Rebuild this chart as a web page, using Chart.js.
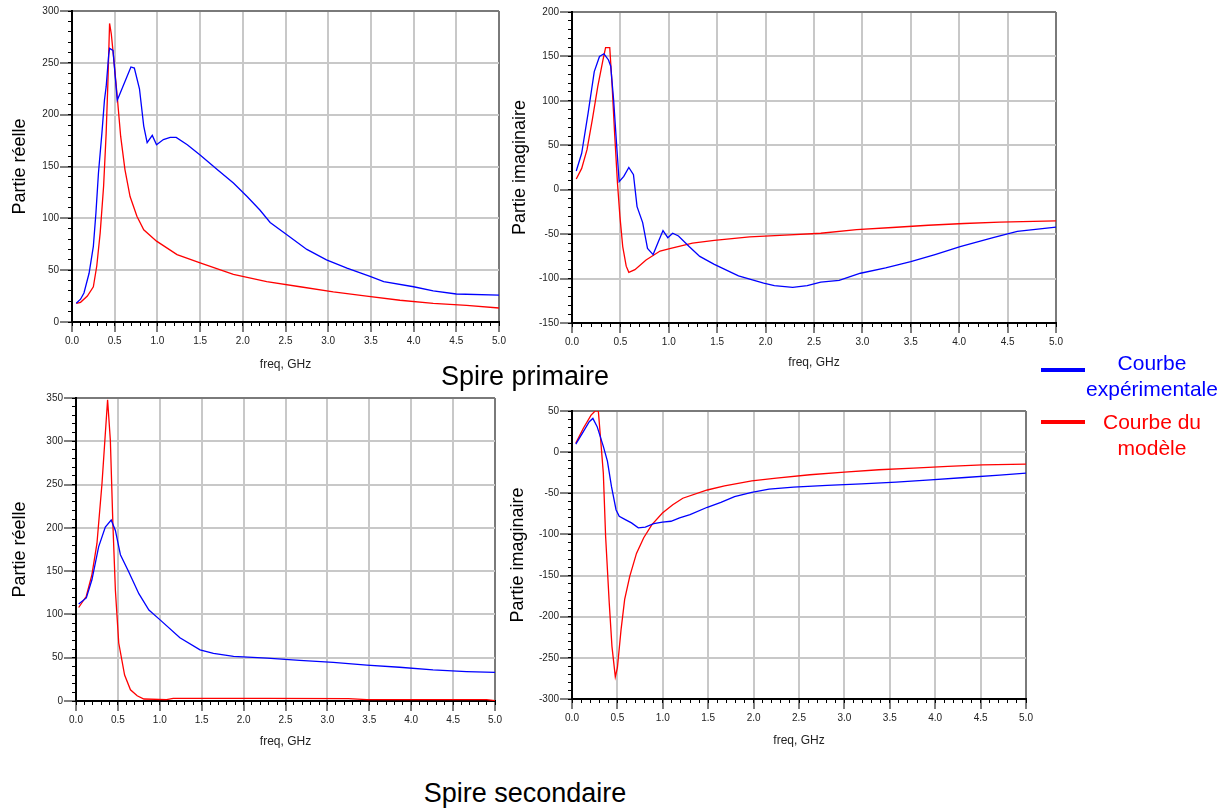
<!DOCTYPE html>
<html>
<head>
<meta charset="utf-8">
<script src="https://cdn.jsdelivr.net/npm/chart.js@4.4.0/dist/chart.umd.min.js"></script>
<style>
body { margin: 0; background: #fff; width: 1231px; height: 809px; position: relative; overflow: hidden; font-family: "Liberation Sans", Arial, sans-serif; }
canvas { position: absolute; }
.txt { position: absolute; white-space: nowrap; transform: translate(-50%, -50%); color: #000; }
.big { font-size: 27px; }
.leg { font-size: 21px; line-height: 26px; text-align: center; }
.swatch { position: absolute; width: 44px; height: 4px; }
</style>
</head>
<body>
<canvas id="c1" width="512" height="376" style="left:0px;top:0px"></canvas>
<canvas id="c2" width="570" height="374" style="left:500px;top:0px"></canvas>
<canvas id="c3" width="508" height="373" style="left:0px;top:380px"></canvas>
<canvas id="c4" width="540" height="372" style="left:500px;top:380px"></canvas>

<div class="txt big" style="left:525px;top:376px">Spire primaire</div>
<div class="txt big" style="left:525px;top:793px">Spire secondaire</div>

<div class="swatch" style="left:1041px;top:368px;background:#0000ff"></div>
<div class="txt leg" style="left:1152px;top:376px;color:#0000ff">Courbe<br>expérimentale</div>
<div class="swatch" style="left:1041px;top:420px;background:#ff0000"></div>
<div class="txt leg" style="left:1152px;top:435px;color:#ff0000">Courbe du<br>modèle</div>

<script>
// Spire primaire - partie reelle
const p1ExpFreq = [0.05, 0.10, 0.14, 0.20, 0.25, 0.28, 0.31, 0.35, 0.38, 0.40, 0.43, 0.44, 0.48, 0.53, 0.69, 0.73, 0.79, 0.84, 0.88, 0.94, 0.99, 1.07, 1.15, 1.22, 1.35, 1.50, 1.70, 1.89, 2.05, 2.20, 2.32, 2.52, 2.75, 2.98, 3.22, 3.49, 3.65, 4.00, 4.23, 4.50, 5.00];
const p1ExpVal  = [18, 22, 28, 47, 73, 105, 144, 182, 214, 227, 258, 264, 262, 214, 246, 245, 225, 189, 173, 180, 171, 176, 178, 178, 171, 161, 147, 134, 121, 108, 96, 84, 70, 60, 52, 44, 39, 34, 30, 27, 26];
const p1ModFreq = [0.05, 0.10, 0.18, 0.25, 0.29, 0.33, 0.37, 0.40, 0.42, 0.44, 0.46, 0.49, 0.53, 0.57, 0.62, 0.68, 0.76, 0.84, 0.99, 1.23, 1.50, 1.89, 2.28, 2.67, 3.06, 3.45, 3.84, 4.23, 4.62, 5.00];
const p1ModVal  = [18, 19, 25, 34, 54, 86, 131, 182, 230, 288, 278, 253, 217, 179, 147, 121, 102, 89, 78, 65, 57, 46, 39, 34, 29, 25, 21, 18, 16, 13.5];

// Spire primaire - partie imaginaire
const p2ExpFreq = [0.044, 0.10, 0.166, 0.23, 0.284, 0.33, 0.377, 0.40, 0.43, 0.46, 0.487, 0.535, 0.587, 0.635, 0.672, 0.73, 0.78, 0.838, 0.894, 0.94, 0.99, 1.04, 1.10, 1.21, 1.32, 1.47, 1.72, 1.98, 2.09, 2.28, 2.43, 2.57, 2.76, 2.98, 3.24, 3.50, 3.75, 4.01, 4.35, 4.60, 5.00];
const p2ExpVal  = [21, 41, 86, 133, 150, 153, 146, 139, 101, 52, 9, 15, 25, 17, -19, -37, -66, -73, -58, -46, -54, -49, -52, -64, -75, -84, -97, -105, -108, -110, -108, -104, -102, -94, -88, -81, -73, -64, -54, -47, -42];
const p2ModFreq = [0.044, 0.10, 0.155, 0.21, 0.266, 0.32, 0.347, 0.39, 0.413, 0.44, 0.47, 0.495, 0.524, 0.56, 0.587, 0.65, 0.765, 0.91, 1.02, 1.245, 1.47, 1.835, 2.20, 2.57, 2.94, 3.31, 3.68, 4.05, 4.42, 5.00];
const p2ModVal  = [12, 24, 45, 79, 116, 146, 160, 160, 120, 64, 7, -30, -64, -86, -93, -90, -79, -69, -66, -60, -57, -53, -51, -49, -45, -42.5, -40, -38, -36.5, -35];

// Spire secondaire - partie reelle
const p3ExpFreq = [0.032, 0.123, 0.19, 0.27, 0.35, 0.42, 0.47, 0.53, 0.63, 0.75, 0.87, 1.00, 1.24, 1.48, 1.64, 1.88, 2.28, 2.67, 3.07, 3.47, 3.86, 4.26, 4.66, 5.00];
const p3ExpVal  = [112, 119, 140, 178, 201, 209, 197, 169, 149, 124, 105, 94, 73, 59, 55, 51.5, 49.5, 47, 44.6, 41.5, 39, 36, 34, 33];
const p3ModFreq = [0.032, 0.123, 0.19, 0.25, 0.31, 0.35, 0.377, 0.41, 0.44, 0.47, 0.51, 0.58, 0.65, 0.73, 0.81, 1.08, 1.16, 2.28, 3.25, 3.47, 4.90, 5.00];
const p3ModVal  = [108, 121, 146, 182, 251, 309, 348, 301, 205, 128, 67, 30, 13, 6, 2.3, 1.5, 3, 3, 2.7, 1.5, 1.5, 0.5];

// Spire secondaire - partie imaginaire
const p4ExpFreq = [0.042, 0.125, 0.19, 0.23, 0.277, 0.345, 0.39, 0.435, 0.485, 0.52, 0.587, 0.655, 0.73, 0.807, 0.90, 0.996, 1.09, 1.185, 1.30, 1.49, 1.64, 1.79, 1.98, 2.17, 2.44, 2.81, 3.19, 3.57, 3.95, 4.33, 4.71, 5.00];
const p4ExpVal  = [9.7, 25, 37, 41, 31, 7, -11, -42, -70, -78, -82, -86, -92, -91, -87, -85, -84, -80, -76, -67, -61, -54, -49, -45, -42.5, -40.5, -38.5, -36.4, -33.6, -30.8, -28, -25.5];
const p4ModFreq = [0.042, 0.125, 0.21, 0.26, 0.29, 0.31, 0.345, 0.37, 0.41, 0.44, 0.477, 0.50, 0.54, 0.58, 0.636, 0.71, 0.79, 0.88, 0.996, 1.11, 1.22, 1.49, 1.68, 1.98, 2.25, 2.62, 3.00, 3.38, 3.76, 4.14, 4.52, 5.00];
const p4ModVal  = [11, 29, 45, 50.5, 50, 23, -25.5, -102, -183, -236, -273, -262, -216, -179, -151, -123, -104, -88, -74, -64, -56, -46, -41, -35, -31.6, -27.5, -24.3, -21.4, -19.4, -17.4, -15.4, -14.6];

const FONT = '"Liberation Sans", Arial, sans-serif';

function pts(f, v) {
    return f.map((x, i) => ({ x: x, y: v[i] }));
}

function makePanel(id, cfg) {
    const noPad = s => { s.paddingLeft = 0; s.paddingRight = 0; s.paddingTop = 0; s.paddingBottom = 0; };
    return new Chart(document.getElementById(id), {
        type: 'line',
        data: {
            datasets: [
                { data: pts(cfg.expF, cfg.expV), borderColor: '#0000ff', borderWidth: 1.3, pointRadius: 0, tension: 0, xAxisID: 'x', yAxisID: 'y' },
                { data: pts(cfg.modF, cfg.modV), borderColor: '#ff0000', borderWidth: 1.3, pointRadius: 0, tension: 0, xAxisID: 'x', yAxisID: 'y' }
            ]
        },
        options: {
            responsive: false,
            animation: false,
            layout: { padding: { top: cfg.padTop, right: cfg.padRight, left: 0, bottom: 0 } },
            plugins: { legend: { display: false }, tooltip: { enabled: false } },
            scales: {
                x: {
                    type: 'linear', position: 'bottom', weight: 1, min: 0, max: 5,
                    ticks: { stepSize: 0.5, autoSkip: false, maxRotation: 0, padding: 3, color: '#222', font: { size: 10, family: FONT }, callback: v => v.toFixed(1) },
                    grid: { color: c => (c.tick && c.tick.value === 5) ? '#7a7a7a' : '#c8c8c8', lineWidth: 2, tickLength: 10, tickColor: '#000', tickWidth: 1 },
                    border: { color: '#000', width: 2 },
                    title: { display: true, text: 'freq, GHz', color: '#222', font: { size: 12, family: FONT }, padding: { top: 0, bottom: 4 } },
                    afterFit: s => { s.height = cfg.xH; noPad(s); }
                },
                xm: {
                    type: 'linear', position: 'bottom', weight: 0, min: 0, max: 5,
                    ticks: { stepSize: 0.1, autoSkip: false, display: false },
                    grid: { drawOnChartArea: false, tickLength: 4, tickColor: '#000', tickWidth: 1 },
                    border: { display: false },
                    afterFit: s => { s.height = 0; noPad(s); }
                },
                y: {
                    type: 'linear', position: 'left', weight: 1, min: cfg.yMin, max: cfg.yMax,
                    ticks: { stepSize: 50, autoSkip: false, padding: 1, color: '#222', font: { size: 10, family: FONT } },
                    grid: { color: c => (c.tick && c.tick.value === cfg.yMax) ? '#7a7a7a' : '#c8c8c8', lineWidth: 2, tickLength: 12, tickColor: '#000', tickWidth: 1 },
                    border: { color: '#000', width: 2 },
                    title: { display: true, text: cfg.yTitle, color: '#000', font: { size: 18, family: FONT }, padding: { top: cfg.titlePad, bottom: 0 } },
                    afterFit: s => { s.width = cfg.yW; noPad(s); }
                },
                ym: {
                    type: 'linear', position: 'left', weight: 0, min: cfg.yMin, max: cfg.yMax,
                    ticks: { stepSize: 10, autoSkip: false, display: false },
                    grid: { drawOnChartArea: false, tickLength: 4, tickColor: '#000', tickWidth: 1 },
                    border: { display: false },
                    afterFit: s => { s.width = 0; noPad(s); }
                }
            }
        }
    });
}

makePanel('c1', { expF: p1ExpFreq, expV: p1ExpVal, modF: p1ModFreq, modV: p1ModVal, yMin: 0, yMax: 300, yTitle: 'Partie réelle', padTop: 11, padRight: 13, yW: 72, xH: 54, titlePad: 9 });
makePanel('c2', { expF: p2ExpFreq, expV: p2ExpVal, modF: p2ModFreq, modV: p2ModVal, yMin: -150, yMax: 200, yTitle: 'Partie imaginaire', padTop: 12, padRight: 14, yW: 72, xH: 51, titlePad: 9 });
makePanel('c3', { expF: p3ExpFreq, expV: p3ExpVal, modF: p3ModFreq, modV: p3ModVal, yMin: 0, yMax: 350, yTitle: 'Partie réelle', padTop: 18, padRight: 13, yW: 76, xH: 52, titlePad: 9 });
makePanel('c4', { expF: p4ExpFreq, expV: p4ExpVal, modF: p4ModFreq, modV: p4ModVal, yMin: -300, yMax: 50, yTitle: 'Partie imaginaire', padTop: 31, padRight: 14, yW: 72, xH: 53, titlePad: 7 });
</script>
</body>
</html>
